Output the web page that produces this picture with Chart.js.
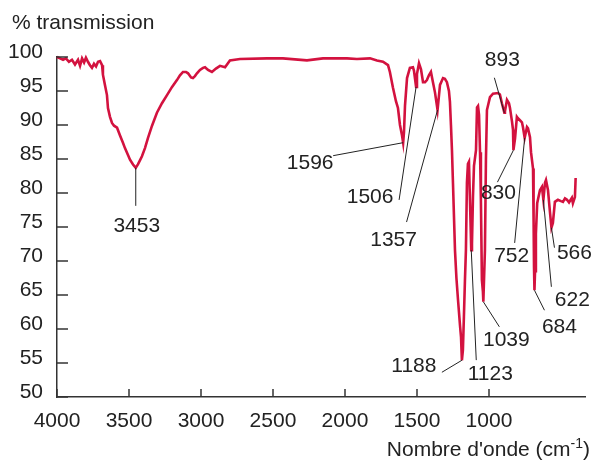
<!DOCTYPE html>
<html>
<head>
<meta charset="utf-8">
<script src="https://cdn.jsdelivr.net/npm/chart.js@4.4.1/dist/chart.umd.min.js"></script>
<style>
  html, body { margin: 0; padding: 0; background: #fff; }
  #wrap { width: 594px; height: 461px; }
</style>
</head>
<body>
<div id="wrap"><canvas id="irChart" width="594" height="461"></canvas></div>
<script>
// IR spectrum
const wavenumbers = [
    4000, 3979, 3958, 3938, 3917, 3896, 3875, 3854, 3840, 3826, 3812, 3799, 3785, 3771, 3757, 3743,
    3729, 3715, 3701, 3687, 3681, 3667, 3653, 3646, 3632, 3618, 3604, 3583, 3563, 3542, 3528, 3507,
    3493, 3472, 3453, 3438, 3424, 3410, 3389, 3368, 3340, 3306, 3271, 3236, 3201, 3167, 3146, 3125,
    3104, 3090, 3069, 3056, 3042, 3028, 3007, 2986, 2972, 2951, 2924, 2896, 2868, 2833, 2799, 2729,
    2542, 2431, 2264, 2153, 1986, 1917, 1826, 1778, 1736, 1701, 1688, 1667, 1646, 1632, 1618, 1604,
    1596, 1590, 1583, 1569, 1549, 1528, 1521, 1506, 1500, 1486, 1472, 1458, 1444, 1431, 1417, 1403,
    1389, 1375, 1361, 1357, 1340, 1319, 1306, 1292, 1278, 1271, 1264, 1257, 1250, 1236, 1226, 1215,
    1201, 1194, 1188, 1181, 1174, 1167, 1160, 1153, 1146, 1139, 1132, 1123, 1118, 1111, 1104, 1090,
    1083, 1076, 1069, 1062, 1056, 1049, 1042, 1039, 1028, 1021, 1014, 993, 972, 937, 924, 910,
    893, 889, 875, 861, 854, 840, 833, 830, 819, 806, 799, 785, 771, 764, 752, 736,
    729, 715, 708, 694, 690, 687, 684, 680, 674, 665, 646, 632, 622, 611, 604, 590,
    576, 566, 556, 542, 521, 500, 486, 472, 458, 444, 424, 417, 403, 398
];
const transmission = [
    100, 99.8, 99.6, 99.8, 99.3, 99.6, 98.9, 99.6, 98.7, 99.8, 99.2, 99.9, 99.3, 98.8, 98.4, 99.0,
    98.6, 99.3, 99.4, 98.8, 97.4, 95.9, 94.4, 92.5, 91.2, 90.3, 89.9, 89.6, 88.5, 87.4, 86.6, 85.6,
    84.9, 84.2, 83.7, 84.2, 84.8, 85.4, 86.6, 88.1, 89.9, 91.8, 93.2, 94.4, 95.6, 96.6, 97.3, 97.8,
    97.8, 97.6, 97.0, 96.9, 97.2, 97.6, 98.1, 98.4, 98.5, 98.1, 97.8, 98.3, 98.7, 98.5, 99.5, 99.7,
    99.8, 99.8, 99.5, 99.8, 99.8, 99.7, 99.8, 99.5, 99.3, 98.8, 97.8, 95.5, 93.5, 92.5, 90.0, 88.5,
    87.4, 89.0, 92.9, 96.9, 98.4, 98.5, 98.0, 95.6, 97.5, 99.1, 98.2, 96.3, 96.3, 96.6, 97.3, 97.8,
    96.3, 94.8, 92.8, 92.2, 95.9, 96.9, 96.8, 96.3, 95.0, 93.4, 90.0, 86.3, 81.5, 71.6, 67.5, 64.3,
    60.5, 58.8, 55.4, 56.9, 61.8, 67.0, 71.6, 81.5, 84.3, 84.6, 79.0, 71.6, 72.5, 79.5, 84.0, 86.3,
    92.6, 92.8, 91.5, 86.0, 79.0, 67.2, 65.5, 64.0, 71.6, 84.9, 92.2, 94.1, 94.6, 94.7, 94.5, 93.2,
    91.8, 92.0, 93.7, 93.2, 92.5, 90.5, 89.3, 86.3, 88.0, 91.2, 91.0, 90.7, 90.4, 89.7, 88.1, 89.7,
    89.5, 88.2, 86.0, 83.6, 76.0, 69.0, 65.7, 68.5, 74.0, 78.5, 80.4, 80.9, 79.0, 81.5, 81.9, 80.4,
    77.1, 74.9, 75.6, 78.7, 79.0, 78.8, 78.7, 79.2, 79.0, 78.6, 79.3, 78.5, 79.4, 82.2
];

const xTicks = [4000, 3500, 3000, 2500, 2000, 1500, 1000];
const yTicks = [50, 55, 60, 65, 70, 75, 80, 85, 90, 95, 100];

// labelled absorption bands
const peakLabels = ['3453', '1596', '1506', '1357', '893', '830', '752', '684', '622', '566', '1188', '1123', '1039'];
const peakWavenumbers = [3453, 1596, 1506, 1357, 893, 830, 752, 684, 622, 566, 1188, 1123, 1039];
const peakTransmission = [83.7, 87.4, 95.6, 92.2, 91.8, 86.3, 88.1, 65.7, 79.0, 74.9, 55.4, 71.6, 64.0];

// leader end and label centre, in px relative to the band
const leaderOffsets = [[0, 38], [-70, 13], [-17, 113], [-31, 112], [-10, -35], [-16, 32], [-10, 105],
    [10, 20], [8, 87], [3, 20], [-20, 12], [5, 110], [16, 25]];
const textOffsets = [[1, 58], [-93, 21], [-46, 110], [-44, 130], [-2, -53], [-15, 43], [-13, 118],
    [25, 37], [29, 100], [23, 26], [-48, 6], [19, 124], [23, 38]];

const FONT = '"Liberation Sans", Arial, sans-serif';
const TEXT_COLOR = '#222';
const AXIS_COLOR = '#333';

const irDecorations = {
    id: 'irDecorations',
    afterDraw(chart) {
        const { ctx, scales: { x, y } } = chart;
        const area = chart.chartArea;
        ctx.save();

        // inward tick marks
        ctx.strokeStyle = AXIS_COLOR;
        ctx.lineWidth = 1.5;
        for (const v of xTicks) {
            const px = Math.round(x.getPixelForValue(v));
            ctx.beginPath();
            ctx.moveTo(px, area.bottom);
            ctx.lineTo(px, area.bottom - 8);
            ctx.stroke();
        }
        for (const v of yTicks) {
            const py = Math.round(y.getPixelForValue(v));
            ctx.beginPath();
            ctx.moveTo(area.left, py);
            ctx.lineTo(area.left + 11, py);
            ctx.stroke();
        }

        // leader lines + band labels
        ctx.strokeStyle = '#222';
        ctx.lineWidth = 1;
        ctx.fillStyle = TEXT_COLOR;
        ctx.font = '21px ' + FONT;
        ctx.textAlign = 'center';
        ctx.textBaseline = 'middle';
        peakWavenumbers.forEach((wn, i) => {
            const px = x.getPixelForValue(wn);
            const py = y.getPixelForValue(peakTransmission[i]);
            ctx.beginPath();
            ctx.moveTo(px, py);
            ctx.lineTo(px + leaderOffsets[i][0], py + leaderOffsets[i][1]);
            ctx.stroke();
            ctx.fillText(peakLabels[i], px + textOffsets[i][0], py + textOffsets[i][1]);
        });

        // axis titles
        ctx.textAlign = 'left';
        ctx.textBaseline = 'alphabetic';
        ctx.fillText('% transmission', 12, 29);

        const base = 456;
        const part1 = "Nombre d'onde (cm";
        const sup = '-1';
        const part2 = ')';
        const w1 = ctx.measureText(part1).width;
        ctx.font = '14px ' + FONT;
        const ws = ctx.measureText(sup).width;
        ctx.font = '21px ' + FONT;
        const w2 = ctx.measureText(part2).width;
        let sx = 590 - (w1 + ws + w2);
        ctx.fillText(part1, sx, base);
        sx += w1;
        ctx.font = '14px ' + FONT;
        ctx.fillText(sup, sx, base - 8);
        sx += ws;
        ctx.font = '21px ' + FONT;
        ctx.fillText(part2, sx, base);
        ctx.restore();
    }
};

new Chart(document.getElementById('irChart'), {
    type: 'line',
    data: {
        datasets: [{
            data: wavenumbers.map((wn, i) => ({ x: wn, y: transmission[i] })),
            borderColor: '#d3123f',
            borderWidth: 2.6,
            pointRadius: 0,
            tension: 0,
            fill: false,
            clip: 6
        }]
    },
    options: {
        responsive: false,
        animation: false,
        events: [],
        layout: { padding: { top: 57, right: 9, left: 0, bottom: 0 } },
        plugins: {
            legend: { display: false },
            tooltip: { enabled: false }
        },
        scales: {
            x: {
                type: 'linear',
                reverse: true,
                min: 333,
                max: 4000,
                grid: { display: false, drawTicks: false },
                border: { display: true, color: AXIS_COLOR, width: 1.5 },
                afterBuildTicks: (scale) => { scale.ticks = xTicks.map(v => ({ value: v })); },
                afterFit: (scale) => { scale.height = 64; },
                ticks: {
                    color: TEXT_COLOR,
                    font: { family: FONT, size: 21 },
                    padding: 12,
                    maxRotation: 0,
                    autoSkip: false,
                    callback: (v) => String(v)
                }
            },
            y: {
                min: 50,
                max: 100,
                grid: { display: false, drawTicks: false },
                border: { display: true, color: AXIS_COLOR, width: 1.5 },
                afterBuildTicks: (scale) => { scale.ticks = yTicks.map(v => ({ value: v })); },
                afterFit: (scale) => { scale.width = 57; },
                ticks: {
                    color: TEXT_COLOR,
                    font: { family: FONT, size: 21 },
                    padding: 14,
                    labelOffset: -5,
                    autoSkip: false,
                    callback: (v) => String(v)
                }
            }
        }
    },
    plugins: [irDecorations]
});
</script>
</body>
</html>
